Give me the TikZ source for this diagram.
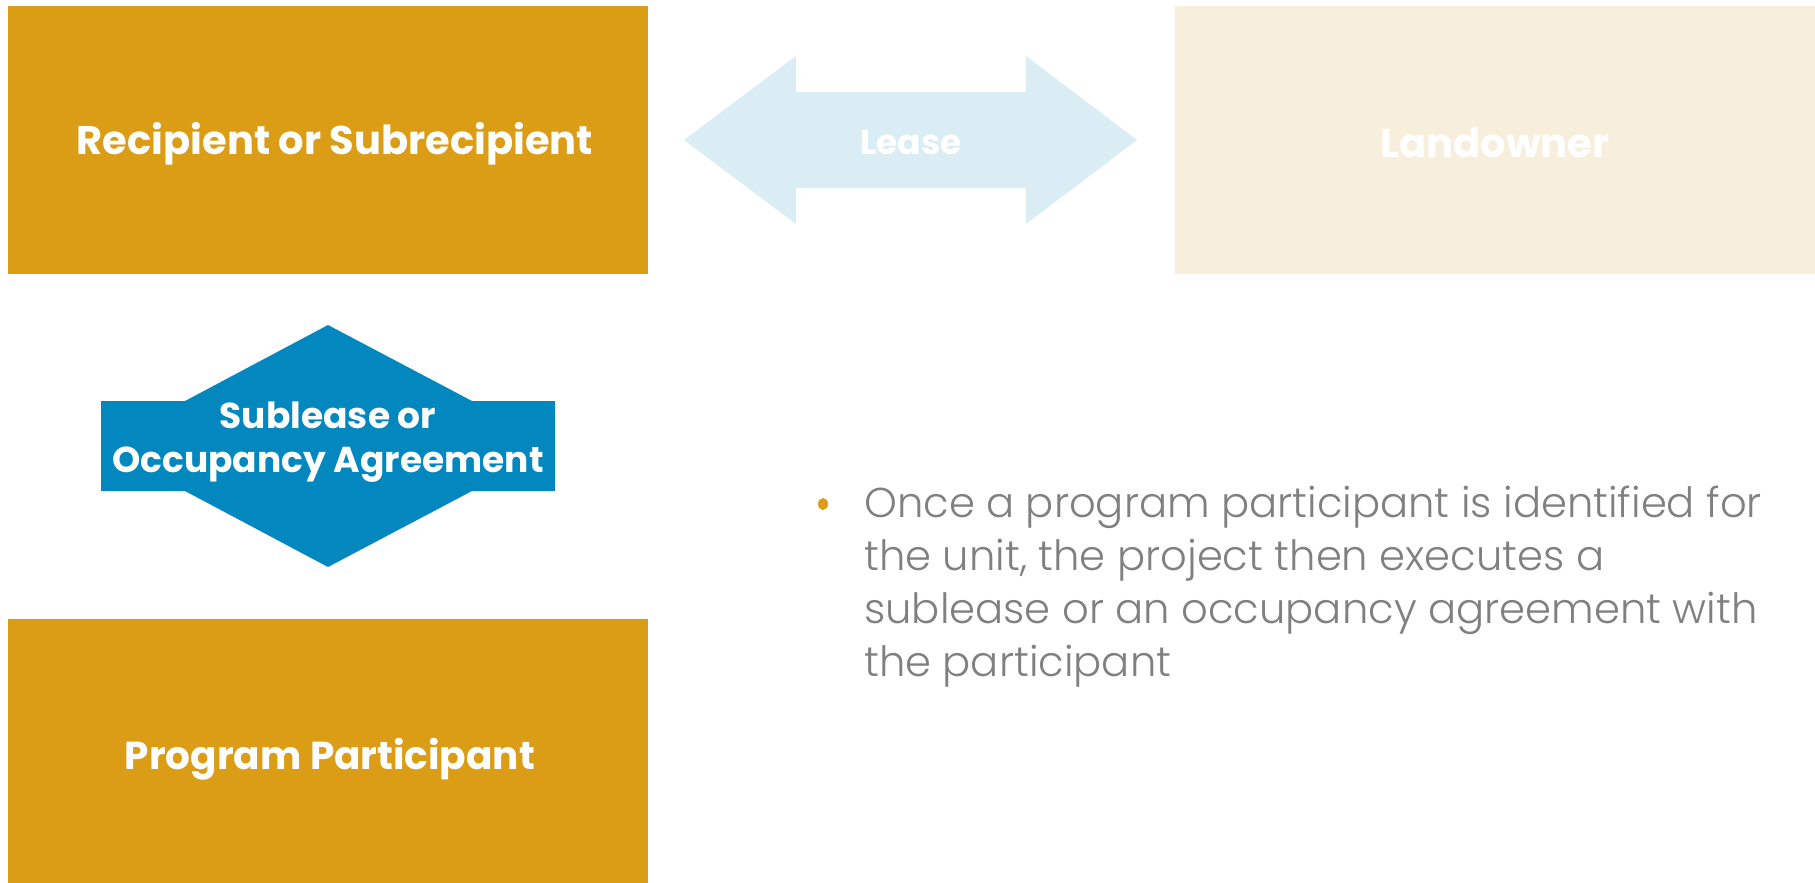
\documentclass[tikz,border=0pt]{standalone}
\usepackage{fontspec}
\usetikzlibrary{shapes.geometric}
\setmainfont{Poppins}
\IfFontExistsTF{Poppins Light}{\newfontfamily\bodyfont{Poppins Light}}{\newfontfamily\bodyfont{Poppins}}
\definecolor{gold}{HTML}{DB9C16}
\definecolor{leaseblue}{HTML}{DAEDF4}
\definecolor{cream}{HTML}{F7EFDC}
\definecolor{hexblue}{HTML}{0288BF}
\definecolor{bodygray}{HTML}{808080}
\tikzset{
  partybox/.style={rectangle, inner sep=0pt, text=white, font=\fontsize{40}{46}\selectfont\bfseries},
  goldbox/.style={partybox, fill=gold},
  creambox/.style={partybox, fill=cream},
  arrowlabel/.style={text=white, font=\fontsize{34.5}{40}\selectfont\bfseries},
  hexlabel/.style={text=white, align=center, font=\fontsize{36}{44}\selectfont\bfseries},
  bodytext/.style={text=bodygray, align=left, anchor=north west, inner sep=0pt, font=\fontsize{41.7}{53}\bodyfont},
}
\begin{document}
\begin{tikzpicture}[x=1pt,y=-1pt]
\useasboundingbox (0,0) rectangle (1815,883);
% boxes
\node[goldbox, minimum width=640pt, minimum height=268pt] (recip) at (328,140) {};
\node[creambox, minimum width=640pt, minimum height=268pt] (land) at (1495,140) {};
\node[goldbox, minimum width=640pt, minimum height=264pt] (part) at (328,751) {};
\node[partybox] (recipt) at (335,144) {Recipient or Subrecipient};
\node[partybox] (landt) at (1495,143) {Landowner};
\node[partybox, font=\fontsize{39}{46}\selectfont\bfseries] (partt) at (330,759) {Program Participant};
% lease double arrow
\fill[leaseblue] (684,140) -- (796,56) -- (796,92) -- (1026,92) -- (1026,56) -- (1137,140)
  -- (1026,224) -- (1026,188) -- (796,188) -- (796,224) -- cycle;
\node[arrowlabel] (lease) at (911,143) {Lease};
% sublease hexagon
\fill[hexblue] (101,401) -- (185,401) -- (328,325) -- (472,401) -- (555,401) -- (555,491)
  -- (472,491) -- (328,567) -- (185,491) -- (101,491) -- cycle;
\node[hexlabel] (sub) at (328,442) {Sublease or\\Occupancy Agreement};
% bullet text
\node[ellipse, fill=gold, inner sep=0pt, minimum width=10pt, minimum height=12pt] (bullet) at (823,504) {};
\node[bodytext] (body) at (864,486) {Once a program participant is identified for\\the unit, the project then executes a\\sublease or an occupancy agreement with\\the participant};
\end{tikzpicture}
\end{document}
